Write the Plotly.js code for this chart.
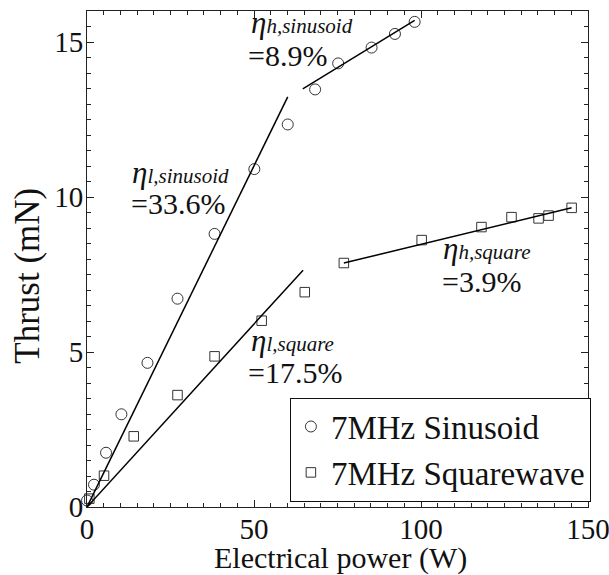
<!DOCTYPE html>
<html>
<head>
<meta charset="utf-8">
<script src="https://cdn.plot.ly/plotly-3.0.1.min.js"></script>
<style>html,body{margin:0;padding:0;background:#fff;}#chart{width:609px;height:575px;}</style>
</head>
<body>
<div id="chart"></div>
<script>
// Measured data: 7 MHz sinusoidal drive
const sinPower  = [0, 2.1, 5.7, 10.3, 18.1, 27.1, 38.2, 50.1, 60.1, 68.3, 75.2, 85.2, 92.2, 98.1];
const sinThrust = [0.21, 0.72, 1.75, 2.99, 4.65, 6.72, 8.81, 10.90, 12.34, 13.47, 14.31, 14.82, 15.26, 15.65];
// Measured data: 7 MHz square-wave drive
const sqPower  = [0.7, 5.1, 14.0, 27.1, 38.2, 52.3, 65.2, 76.9, 100.2, 118.1, 127.1, 135.2, 138.2, 145.1];
const sqThrust = [0.27, 1.01, 2.28, 3.61, 4.86, 6.01, 6.93, 7.87, 8.61, 9.03, 9.35, 9.31, 9.40, 9.65];
// Linear fits (end points)
const fitLowSinX = [0, 60.1],  fitLowSinY = [0, 13.23];
const fitHighSinX = [64.6, 98.1], fitHighSinY = [13.49, 15.70];
const fitLowSqX = [0, 64.7],  fitLowSqY = [0, 7.64];
const fitHighSqX = [76.9, 145.1], fitHighSqY = [7.87, 9.65];
// Legend labels, axis titles and efficiency labels
const seriesNames = ["7MHz Sinusoid", "7MHz Squarewave"];
const xTitle = "Electrical power (W)";
const yTitle = "Thrust (mN)";
const etaSubs = ["h,sinusoid", "l,sinusoid", "l,square", "h,square"];
const etaVals = ["=8.9%", "=33.6%", "=17.5%", "=3.9%"];

const FONT = "Liberation Serif";
const INK = "#111";

const fitLine = {color: "#000", width: 1.5};
const traces = [
  {x: sinPower, y: sinThrust, mode: "markers", name: seriesNames[0], cliponaxis: false,
   marker: {symbol: "circle-open", size: 11, color: "#333", line: {width: 1}}},
  {x: sqPower, y: sqThrust, mode: "markers", name: seriesNames[1], cliponaxis: false,
   marker: {symbol: "square-open", size: 9.5, color: "#333", line: {width: 1}}},
  {x: fitLowSinX, y: fitLowSinY, mode: "lines", line: fitLine, showlegend: false, hoverinfo: "skip"},
  {x: fitHighSinX, y: fitHighSinY, mode: "lines", line: fitLine, showlegend: false, hoverinfo: "skip"},
  {x: fitLowSqX, y: fitLowSqY, mode: "lines", line: fitLine, showlegend: false, hoverinfo: "skip"},
  {x: fitHighSqX, y: fitHighSqY, mode: "lines", line: fitLine, showlegend: false, hoverinfo: "skip"}
];

// label anchor positions (data coords) for [eta line, value line]
const labelPos = [
  {xEta: 48.4, yEta: 15.63, xVal: 47.6, yVal: 14.55},
  {xEta: 13.0, yEta: 10.79, xVal: 12.7, yVal: 9.79},
  {xEta: 48.4, yEta: 5.38, xVal: 47.6, yVal: 4.35},
  {xEta: 105.9, yEta: 8.33, xVal: 105.6, yVal: 7.28}
];
const annotations = [];
labelPos.forEach((p, i) => {
  annotations.push({x: p.xEta, y: p.yEta, xref: "x", yref: "y", xanchor: "left", yanchor: "middle",
    showarrow: false, align: "left",
    text: "<i>η<span style='font-size:21px'>" + etaSubs[i] + "</span></i>",
    font: {family: FONT, size: 31, color: INK}});
  annotations.push({x: p.xVal, y: p.yVal, xref: "x", yref: "y", xanchor: "left", yanchor: "middle",
    showarrow: false, align: "left", text: etaVals[i],
    font: {family: FONT, size: 30, color: INK}});
});
// axis titles
annotations.push({x: 0.506, y: -0.102, xref: "paper", yref: "paper", xanchor: "center", yanchor: "middle",
  showarrow: false, text: xTitle, font: {family: FONT, size: 30, color: INK}});
annotations.push({x: -0.118, y: 0.466, xref: "paper", yref: "paper", xanchor: "center", yanchor: "middle",
  showarrow: false, textangle: -90, text: yTitle, font: {family: FONT, size: 35, color: INK}});

const axisCommon = {
  showline: true, linecolor: "#222", linewidth: 1, mirror: "ticks",
  ticks: "inside", ticklen: 7, tickwidth: 1, tickcolor: "#222",
  showgrid: false, zeroline: false, automargin: false,
  ticklabeloverflow: "allow",
  tickfont: {family: FONT, size: 29, color: INK}
};

const layout = {
  width: 609, height: 575,
  margin: {l: 87, r: 21, t: 11, b: 68},
  paper_bgcolor: "#fff", plot_bgcolor: "#fff",
  showlegend: true,
  legend: {x: 0.405, y: 0.011, xanchor: "left", yanchor: "bottom",
    bgcolor: "#fff", bordercolor: "#111", borderwidth: 1,
    font: {family: FONT, size: 33, color: INK}, tracegroupgap: 0},
  xaxis: Object.assign({}, axisCommon, {
    range: [0, 150], dtick: 50, tick0: 0, ticklabelstandoff: -4,
    minor: {dtick: 5, ticks: "inside", ticklen: 4, tickcolor: "#222"}
  }),
  yaxis: Object.assign({}, axisCommon, {
    range: [0, 16], dtick: 5, tick0: 0, ticklabelstandoff: -3,
    minor: {dtick: 0.5, ticks: "inside", ticklen: 4, tickcolor: "#222"}
  }),
  annotations: annotations
};

Plotly.newPlot("chart", traces, layout, {staticPlot: true, displayModeBar: false});
</script>
</body>
</html>
